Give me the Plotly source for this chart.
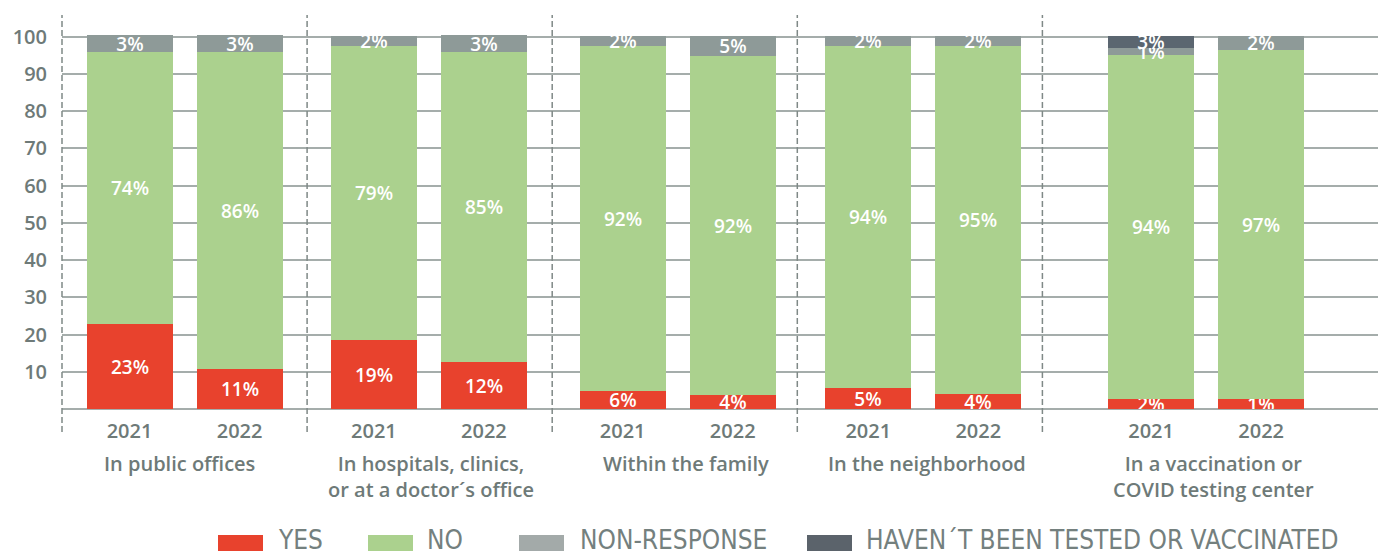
import plotly.graph_objects as go

# ---------------- data ----------------
groups = ["In public offices",
          "In hospitals, clinics,<br>or at a doctor´s office",
          "Within the family",
          "In the neighborhood",
          "In a vaccination or<br>COVID testing center"]
years = ["2021", "2022"]

yes_vals = [22.8, 10.7, 18.5, 12.6, 4.9, 3.8, 5.7, 4.1, 2.8, 2.8]
no_vals = [73.1, 85.2, 79.0, 83.3, 92.6, 91.0, 91.8, 93.4, 92.3, 93.6]
nr_vals = [4.6, 4.6, 2.7, 4.6, 2.7, 5.4, 2.7, 2.7, 1.9, 3.8]
ht_vals = [0, 0, 0, 0, 0, 0, 0, 0, 3.2, 0]

yes_labels = ["23%", "11%", "19%", "12%", "6%", "4%", "5%", "4%", "2%", "1%"]
no_labels = ["74%", "86%", "79%", "85%", "92%", "92%", "94%", "95%", "94%", "97%"]
nr_labels = ["3%", "3%", "2%", "3%", "2%", "5%", "2%", "2%", "1%", "2%"]
ht_labels = ["", "", "", "", "", "", "", "", "3%", ""]

series_names = ["YES", "NO", "NON-RESPONSE", "HAVEN´T BEEN TESTED OR VACCINATED"]
y_ticks = [0, 10, 20, 30, 40, 50, 60, 70, 80, 90, 100]

# ---------------- styling / layout ----------------
W, H = 1378, 551
ML, MR, MT, MB = 62, 0, 15, 142
PW, PH = W - ML - MR, H - MT - MB
GROUP_PX = 245.1
X_MAX = PW / GROUP_PX
Y_MAX = 105.85

group_center = [0.5, 0.497, 0.512, 0.514, 0.668]
label_shift = [-0.02, 0.01, 0.035, 0.015, 0.03]
half_gap = 0.2245
bar_w = 0.351

series_colors = ["#e8422d", "#abd18e", "#8e9a98", "#5b6670"]
legend_colors = ["#e8422d", "#abd18e", "#a3aaa9", "#5b636b"]
TXT = "#6e7a78"
GRID = "#a5adab"
SEP = "#7f8987"
FONT = "Open Sans"

x_pos = []
for gi in range(len(groups)):
    for s in (-1, 1):
        x_pos.append(gi + group_center[gi] + s * half_gap)
tick_text = years * len(groups)

fig = go.Figure()
for name, vals, labs, col in zip(series_names,
                                 [yes_vals, no_vals, nr_vals, ht_vals],
                                 [yes_labels, no_labels, nr_labels, ht_labels],
                                 series_colors):
    fig.add_trace(go.Bar(
        x=x_pos, y=vals, name=name, width=bar_w,
        marker=dict(color=col, line=dict(width=0)),
        text=labs, textposition="inside", insidetextanchor="middle",
        textangle=0, constraintext="none",
        textfont=dict(family=FONT, size=19, color="white", weight=600),
        hoverinfo="skip", showlegend=False,
    ))

def px_x(px):
    return (px - ML) / PW

def px_y(py):
    return (MT + PH - py) / PH

shapes = []
# dashed group separators
for gi in range(len(groups)):
    shapes.append(dict(type="line", xref="x domain", yref="y domain",
                       x0=gi / X_MAX, x1=gi / X_MAX,
                       y0=px_y(432), y1=1,
                       line=dict(color=SEP, width=1.5, dash="6px,3px")))

annotations = []
for gi, g in enumerate(groups):
    annotations.append(dict(x=gi + group_center[gi] + label_shift[gi], xref="x",
                            y=px_y(448), yref="paper", yanchor="top",
                            text=g, showarrow=False,
                            font=dict(family=FONT, size=20, color=TXT, weight=600)))

# manual legend
leg_sq_x = [218, 368, 519, 807]
leg_txt_x = [276, 425, 578, 864]
for i, name in enumerate(series_names):
    shapes.append(dict(type="rect", xref="paper", yref="paper",
                       x0=px_x(leg_sq_x[i]), x1=px_x(leg_sq_x[i] + 45),
                       y0=px_y(551), y1=px_y(535),
                       fillcolor=legend_colors[i], line=dict(width=0)))
    annotations.append(dict(x=px_x(leg_txt_x[i]), xref="paper", xanchor="left",
                            y=px_y(540), yref="paper", yanchor="middle",
                            text=name, showarrow=False,
                            font=dict(family="Liberation Sans Narrow, DejaVu Sans Condensed, Roboto",
                                      size=26, color="#74807e")))

fig.update_layout(
    width=W, height=H,
    margin=dict(l=ML, r=MR, t=MT, b=MB, pad=0),
    paper_bgcolor="white", plot_bgcolor="white",
    barmode="stack", bargap=0,
    uniformtext=dict(minsize=19, mode="show"),
    shapes=shapes, annotations=annotations,
    xaxis=dict(range=[0, X_MAX], tickmode="array", tickvals=x_pos, ticktext=tick_text,
               showgrid=False, zeroline=False, showline=False, ticks="",
               tickfont=dict(family=FONT, size=20, color=TXT, weight=600),
               ticklabelstandoff=8, fixedrange=True),
    yaxis=dict(range=[0, Y_MAX], tickmode="array", tickvals=y_ticks,
               ticktext=["" if v == 0 else str(v) for v in y_ticks],
               showgrid=True, gridcolor=GRID, gridwidth=1.5,
               zeroline=True, zerolinecolor=GRID, zerolinewidth=1.5,
               showline=False, ticks="",
               tickfont=dict(family=FONT, size=20, color=TXT, weight=600),
               ticklabelstandoff=14, fixedrange=True),
)

fig.write_html("out.html", config={"displayModeBar": False},
               post_script="document.body.style.margin='0';")
